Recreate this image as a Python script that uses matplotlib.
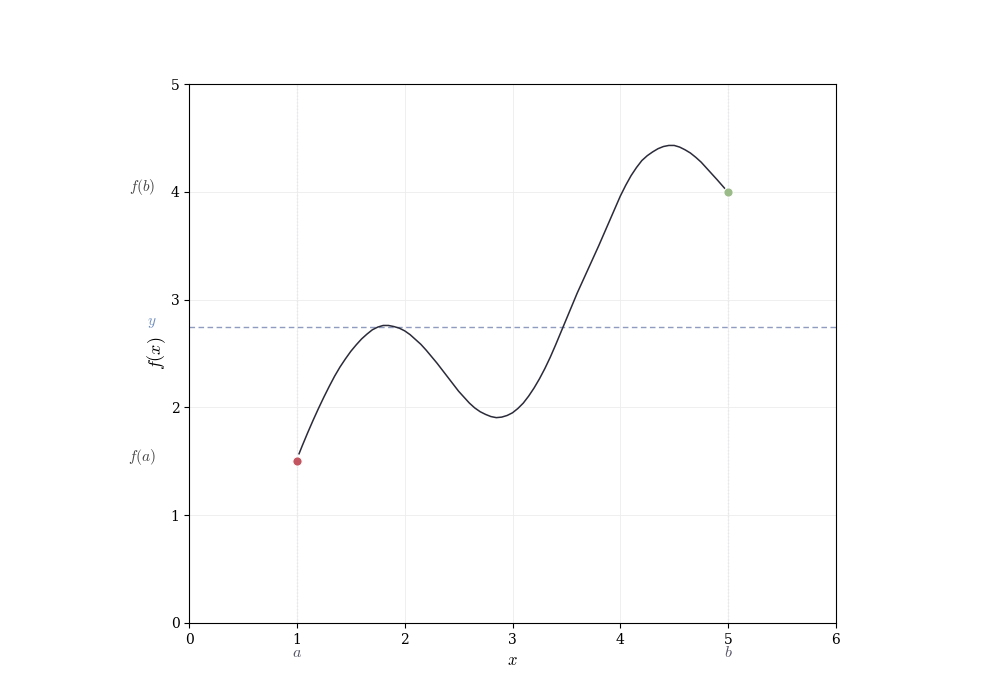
import matplotlib
matplotlib.use("Agg")
import matplotlib.pyplot as plt

plt.rcParams['font.family'] = ['DejaVu Serif']
plt.rcParams['mathtext.fontset'] = 'cm'

x_vals = [1.02, 1.05, 1.1, 1.15, 1.2, 1.25, 1.3, 1.35, 1.4, 1.45, 1.5, 1.55, 1.6, 1.65,
          1.7, 1.75, 1.8, 1.85, 1.9, 1.95, 2.0, 2.05, 2.1, 2.15, 2.2, 2.25, 2.3, 2.35,
          2.4, 2.45, 2.5, 2.55, 2.6, 2.65, 2.7, 2.75, 2.8, 2.85, 2.9, 2.95, 3.0, 3.05,
          3.1, 3.15, 3.2, 3.25, 3.3, 3.35, 3.4, 3.45, 3.5, 3.55, 3.6, 3.65, 3.7, 3.75,
          3.8, 3.85, 3.9, 3.95, 4.0, 4.05, 4.1, 4.15, 4.2, 4.25, 4.3, 4.35, 4.4, 4.45,
          4.5, 4.55, 4.6, 4.65, 4.7, 4.75, 4.8, 4.85, 4.9, 4.97]
y_vals = [1.57, 1.645, 1.765, 1.88, 1.99, 2.095, 2.195, 2.29, 2.375, 2.45, 2.52, 2.58, 2.635, 2.68,
          2.72, 2.745, 2.76, 2.76, 2.75, 2.735, 2.71, 2.675, 2.63, 2.585, 2.53, 2.47, 2.41, 2.345,
          2.28, 2.215, 2.15, 2.095, 2.04, 1.995, 1.96, 1.935, 1.915, 1.905, 1.91, 1.925, 1.95, 1.99,
          2.04, 2.105, 2.18, 2.265, 2.36, 2.465, 2.58, 2.70, 2.82, 2.94, 3.06, 3.17, 3.28, 3.39,
          3.50, 3.615, 3.73, 3.845, 3.96, 4.06, 4.15, 4.225, 4.29, 4.335, 4.37, 4.40, 4.42, 4.43,
          4.43, 4.415, 4.39, 4.36, 4.32, 4.275, 4.22, 4.165, 4.11, 4.03]
a_pt = (1.0, 1.5)
b_pt = (5.0, 4.0)
y_level = 2.75
x_ticks = [0, 1, 2, 3, 4, 5, 6]
y_ticks = [0, 1, 2, 3, 4, 5]

fig, ax = plt.subplots(figsize=(10, 7), dpi=100)
ax.set_xlim(0, 6)
ax.set_ylim(0, 5)
ax.set_aspect('equal')
ax.set_xticks(x_ticks)
ax.set_yticks(y_ticks)
ax.grid(True, color='#ececec', linewidth=0.6)
for xv in (a_pt[0], b_pt[0]):
    ax.axvline(xv, color='#d4d4e8', linestyle=':', linewidth=0.9, zorder=0.5)
ax.axhline(y_level, color='#8f9cbf', linestyle='--', linewidth=1.0, dashes=(4, 2.5))
ax.plot(x_vals, y_vals, color='#2b2b3a', linewidth=1.1)
ax.scatter([a_pt[0]], [a_pt[1]], s=45, color='#c25560', edgecolor='white', linewidth=0.8, zorder=5)
ax.scatter([b_pt[0]], [b_pt[1]], s=45, color='#9bbb88', edgecolor='white', linewidth=0.8, zorder=5)

ax.text(-0.31, 4.04, r'$f(b)$', ha='right', va='center', color='#444444', fontsize=11, clip_on=False)
ax.text(-0.31, 1.54, r'$f(a)$', ha='right', va='center', color='#444444', fontsize=11, clip_on=False)
ax.text(-0.35, 2.78, r'$y$', ha='center', va='center', color='#6f8fc0', fontsize=11, clip_on=False)
ax.text(1.0, -0.27, r'$a$', ha='center', va='center', color='#555566', fontsize=11.5, clip_on=False)
ax.text(5.0, -0.27, r'$b$', ha='center', va='center', color='#555566', fontsize=11.5, clip_on=False)
ax.set_xlabel(r'$x$', fontsize=12, labelpad=4)
ax.set_ylabel(r'$f(x)$', fontsize=13, labelpad=2)

fig.savefig('out.png', dpi=100)
